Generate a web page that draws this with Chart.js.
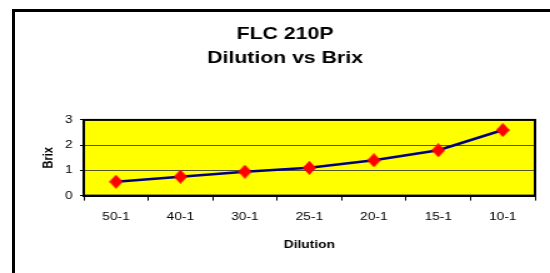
<!DOCTYPE html>
<html>
<head>
<meta charset="utf-8">
<script src="https://cdn.jsdelivr.net/npm/chart.js@4.4.0/dist/chart.umd.min.js"></script>
<style>
  body { margin: 0; background: #fff; }
  #wrap { position: relative; width: 550px; height: 273px; overflow: hidden; }
  #frame { position: absolute; left: 12px; top: 9px; width: 600px; height: 300px;
           border-left: 3px solid #000; border-top: 3px solid #000; }
  /* the original picture is stretched sideways, so draw narrow and widen it */
  #stretch { position: absolute; left: 0; top: 0; width: 440px; height: 273px;
             transform: scaleX(1.25); transform-origin: 0 0; }
</style>
</head>
<body>
<div id="wrap">
  <div id="frame"></div>
  <div id="stretch"><canvas id="myChart" width="440" height="273"></canvas></div>
</div>
<script>
// data
let dilutions = ['50-1','40-1','30-1','25-1','20-1','15-1','10-1'];
let brix = [0.55, 0.75, 0.95, 1.1, 1.4, 1.8, 2.6];
let brixTicks = [0, 1, 2, 3];

// red diamond, drawn a bit narrow so it comes out square after the stretch
let diamond = document.createElement('canvas');
diamond.width = 11;
diamond.height = 14;
let dc = diamond.getContext('2d');
dc.fillStyle = '#FF0000';
dc.beginPath();
dc.moveTo(5.5, 0);
dc.lineTo(11, 7);
dc.lineTo(5.5, 14);
dc.lineTo(0, 7);
dc.closePath();
dc.fill();

// yellow plot area + black frame round it
let plotBg = {
	id:'plotBg',
	beforeDraw(chart){
		let c = chart.ctx, a = chart.chartArea;
		c.save();
		c.fillStyle = '#FFFF00';
		c.fillRect(a.left, a.top, a.right - a.left, a.bottom - a.top);
		c.restore();
	},
	beforeDatasetsDraw(chart){
		let c = chart.ctx, a = chart.chartArea;
		c.save();
		c.strokeStyle = '#000';
		c.lineWidth = 2;
		c.strokeRect(a.left, a.top, a.right - a.left, a.bottom - a.top);
		c.restore();
	}
};

let ctx = document.getElementById('myChart').getContext('2d');
let chart = new Chart(ctx, {
	type:'line',
	data:{
		labels:dilutions,
		datasets:[{
			label:'Brix',
			data:brix,
			borderColor:'#000080',
			borderWidth:2.5,
			pointStyle:diamond,
			pointRadius:7,
			pointHoverRadius:7,
			tension:0,
			clip:false
		}]
	},
	options:{
		responsive:false,
		animation:false,
		layout:{
			padding:{ left:28, right:12, top:0, bottom:21 }
		},
		plugins:{
			legend:{ display:false },
			tooltip:{ enabled:false },
			title:{
				display:true,
				text:['FLC 210P','Dilution vs Brix'],
				color:'#000',
				font:{ family:'Liberation Sans, Arial', size:17, weight:'bold', lineHeight:1.38 },
				padding:{ top:23, bottom:50 }
			}
		},
		scales:{
			x:{
				offset:true,
				grid:{
					offset:true,
					drawOnChartArea:false,
					drawTicks:true,
					tickLength:5,
					color:'#000',
					lineWidth:1
				},
				border:{ display:true, color:'#000', width:2 },
				ticks:{
					color:'#000',
					padding:10,
					maxRotation:0,
					font:{ family:'Liberation Sans, Arial', size:11 }
				},
				title:{
					display:true,
					text:'Dilution',
					color:'#000',
					font:{ family:'Liberation Sans, Arial', size:11, weight:'bold' },
					padding:{ top:5, bottom:0 }
				}
			},
			y:{
				min:0,
				max:3,
				afterBuildTicks(scale){
					scale.ticks = brixTicks.map(v => ({ value:v }));
				},
				afterFit(scale){ scale.width = 39; },
				grid:{
					color:(c) => (c.tick && c.tick.value > 0 && c.tick.value < 3) ? '#55552a' : 'rgba(0,0,0,0)',
					tickColor:'#000',
					tickLength:3,
					lineWidth:1
				},
				border:{ display:true, color:'#000', width:2 },
				ticks:{
					color:'#000',
					padding:6,
					font:{ family:'Liberation Sans, Arial', size:11 }
				},
				title:{
					display:true,
					text:'Brix',
					color:'#000',
					font:{ family:'Liberation Sans, Arial', size:11, weight:'bold' },
					padding:{ top:4, bottom:4 }
				}
			}
		}
	},
	plugins:[plotBg]
});
</script>
</body>
</html>
